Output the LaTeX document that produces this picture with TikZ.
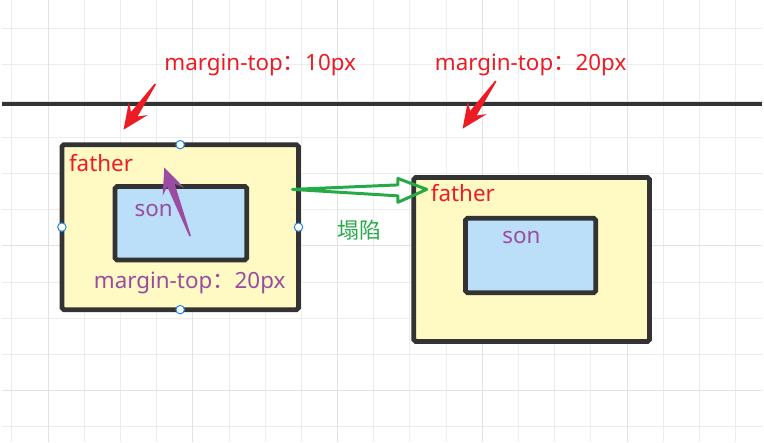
\documentclass[tikz,border=0pt]{standalone}
\usepackage{fontspec}
\setmainfont{Noto Sans}
\newfontfamily\cjk{Noto Sans CJK SC}
\usetikzlibrary{calc}

\definecolor{boxline}{RGB}{51,51,51}
\definecolor{fatherfill}{RGB}{255,249,196}
\definecolor{sonfill}{RGB}{187,222,249}
\definecolor{notered}{RGB}{237,28,36}
\definecolor{notepurple}{RGB}{155,76,160}
\definecolor{notegreen}{RGB}{38,170,72}
\definecolor{handleblue}{RGB}{30,136,229}
\definecolor{gridminor}{RGB}{237,237,237}
\definecolor{gridmajor}{RGB}{226,226,226}

% tapered hand-drawn arrow: colour, tail, tip
\newcommand{\sketcharrow}[3]{%
	\fill[#1] (#3)
	-- ($(#3)!26pt!(#2)!11.5pt!90:(#2)$)
	-- ($(#3)!19pt!(#2)!4pt!90:(#2)$)
	-- ($(#2)!0.8pt!-90:(#3)$)
	-- ($(#2)!0.8pt!90:(#3)$)
	-- ($(#3)!19pt!(#2)!4pt!-90:(#2)$)
	-- ($(#3)!26pt!(#2)!11.5pt!-90:(#2)$)
	-- cycle;}

\begin{document}
\begin{tikzpicture}
	[x=1pt,y=-1pt,
	father/.style={draw=boxline,fill=fatherfill,line width=4.8pt,rounded corners=2pt,inner sep=0pt,outer sep=0pt},
	son/.style={draw=boxline,fill=sonfill,line width=4.8pt,rounded corners=2pt,inner sep=0pt,outer sep=0pt},
	handle/.style={circle,draw=handleblue,fill=white,line width=1pt,inner sep=0pt,minimum size=8.5pt},
	lbl/.style={anchor=base west,inner sep=0pt,font=\fontsize{22.5}{27}\selectfont}]
	\fill[white] (0,0) rectangle (764,444);
	% grid
	\foreach \k in {0,...,20}
		\draw[gridminor,line width=1pt] (9.7+36.4*\k,0) -- (9.7+36.4*\k,444);
	\foreach \k in {0,...,11}
		\draw[gridminor,line width=1pt] (0,28.4+36.4*\k) -- (764,28.4+36.4*\k);
	\foreach \k in {1,5,9,13,17}
		\draw[gridmajor,line width=1pt] (9.7+36.4*\k,0) -- (9.7+36.4*\k,444);
	\foreach \k in {2,6,10}
		\draw[gridmajor,line width=1pt] (0,28.4+36.4*\k) -- (764,28.4+36.4*\k);
	\draw[boxline,line width=4.5pt] (0,104) -- (764,104);
	% before
	\node[father,minimum width=238pt,minimum height=166pt] (fa) at (179,228) {};
	\node[son,minimum width=132.5pt,minimum height=74pt] (sa) at (179.75,224) {};
	\foreach \a in {north,south,east,west}
		\node[handle] (h-\a) at (fa.\a) {};
	% after
	\node[father,minimum width=237pt,minimum height=165pt] (fb) at (532.5,260.5) {};
	\node[son,minimum width=131pt,minimum height=75pt] (sb) at (531.5,256.5) {};
	% labels
	\node[lbl,notered] (ta) at (163,70.7) {margin-top{\cjk ：}10px};
	\node[lbl,notered] (tb) at (435,70.7) {margin-top{\cjk ：}20px};
	\node[lbl,notered] (fla) at (67,171.7) {father};
	\node[lbl,notepurple] (sla) at (133,217) {son};
	\node[lbl,notepurple] (ma) at (92,290) {margin-top{\cjk ：}20px};
	\node[lbl,notered] (flb) at (431,201.7) {father};
	\node[lbl,notepurple] (slb) at (503,244) {son};
	\node[lbl,notegreen,font=\cjk\fontsize{22}{26}\selectfont] (col) at (337,239) {塌陷};
	% arrows
	\coordinate (ra1) at (154,84);
	\coordinate (ra2) at (122,130);
	\coordinate (rb1) at (496.5,81);
	\coordinate (rb2) at (463,129);
	\coordinate (pa1) at (189,237);
	\coordinate (pa2) at (163,168);
	\sketcharrow{notered}{ra1}{ra2}
	\sketcharrow{notered}{rb1}{rb2}
	\sketcharrow{notepurple}{pa1}{pa2}
	\coordinate (gs) at (292,190);
	\coordinate (ge) at (427,190);
	\draw[notegreen,line width=3pt,line join=round,line cap=round] (gs)
		-- ($(ge)+(-29,-4.5)$) -- ($(ge)+(-29,-11)$) -- (ge)
		-- ($(ge)+(-29,13)$) -- ($(ge)+(-29,6.5)$) -- cycle;
\end{tikzpicture}
\end{document}
